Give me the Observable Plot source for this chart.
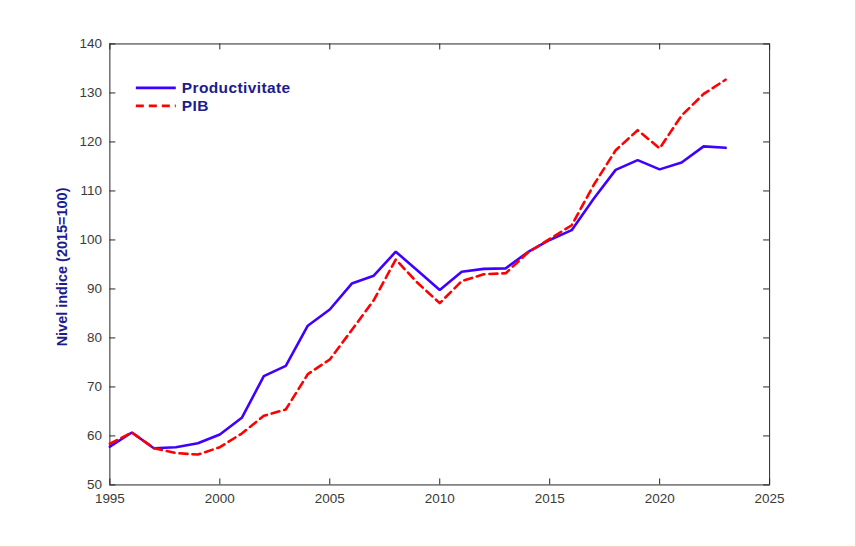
<!DOCTYPE html>
<html>
<head>
<meta charset="utf-8">
<script src="https://cdn.jsdelivr.net/npm/d3@7"></script>
<script src="https://cdn.jsdelivr.net/npm/@observablehq/plot@0.6"></script>
<style>
  html, body { margin: 0; padding: 0; background: #fff; }
  #wrap { position: relative; width: 856px; height: 547px; box-sizing: border-box;
          border-right: 1px solid #f5d2c2; border-bottom: 1px solid #f5d2c2; overflow: hidden; }
</style>
</head>
<body>
<div id="wrap"></div>
<script>
const years = [1995,1996,1997,1998,1999,2000,2001,2002,2003,2004,2005,2006,2007,2008,2009,
               2010,2011,2012,2013,2014,2015,2016,2017,2018,2019,2020,2021,2022,2023];
const productivitate = [57.8,60.7,57.5,57.7,58.5,60.3,63.7,72.2,74.3,82.5,85.8,91.1,92.7,97.6,93.7,
                        89.8,93.5,94.1,94.2,97.5,100.0,102.0,108.4,114.3,116.3,114.4,115.8,119.1,118.8];
const pib = [58.4,60.7,57.5,56.5,56.2,57.7,60.5,64.1,65.4,72.6,75.6,81.6,87.7,96.0,91.2,
             87.1,91.6,93.0,93.2,97.4,100.2,103.0,111.2,118.3,122.4,118.7,125.4,129.8,132.7];
const xTicks = [1995,2000,2005,2010,2015,2020,2025];
const yTicks = [50,60,70,80,90,100,110,120,130,140];
const seriesNames = ["Productivitate", "PIB"];
const colors = ["#4000ff", "#ff0000"];
const yLabel = "Nivel indice (2015=100)";

const rows = [];
years.forEach((y, i) => {
  rows.push({year: y, value: productivitate[i], s: seriesNames[0]});
  rows.push({year: y, value: pib[i], s: seriesNames[1]});
});

const W = 856, H = 547;
const mL = 109.5, mT = 43.5, mR = 86, mB = 62;
const plotH = H - mT - mB, plotW = W - mL - mR;
const tick = 6;
const axisColor = "#262626";
const labelColor = "#3a3a3a";
const navy = "#1c1c8f";
const font = "'Liberation Sans', Arial, sans-serif";

const chart = Plot.plot({
  width: W, height: H,
  marginLeft: mL, marginTop: mT, marginRight: mR, marginBottom: mB,
  style: {fontFamily: font, fontSize: "13.5px", background: "#fff"},
  x: {domain: [1995, 2025], ticks: xTicks, tickFormat: d => String(d)},
  y: {domain: [50, 140], ticks: yTicks},
  marks: [
    Plot.axisX({ticks: xTicks, tickSize: 0, tickPadding: 9, tickFormat: d => String(d), label: null, color: labelColor, fontSize: 13.5}),
    Plot.axisY({ticks: yTicks, tickSize: 0, tickPadding: 8, label: null, color: labelColor, fontSize: 13.5}),
    // inward ticks (bottom, top, left, right)
    Plot.ruleX(xTicks, {stroke: axisColor, insetTop: plotH - tick}),
    Plot.ruleX(xTicks, {stroke: axisColor, insetBottom: plotH - tick}),
    Plot.ruleY(yTicks, {stroke: axisColor, insetRight: plotW - tick}),
    Plot.ruleY(yTicks, {stroke: axisColor, insetLeft: plotW - tick}),
    Plot.frame({stroke: axisColor, strokeWidth: 1}),
    Plot.line(rows.filter(d => d.s === seriesNames[0]), {x: "year", y: "value", stroke: colors[0], strokeWidth: 2.6, strokeLinejoin: "miter"}),
    Plot.line(rows.filter(d => d.s === seriesNames[1]), {x: "year", y: "value", stroke: colors[1], strokeWidth: 2.6, strokeDasharray: "8,5"})
  ]
});

document.getElementById("wrap").appendChild(chart);

// y-axis title and legend
const svg = d3.select(chart);
svg.append("text")
  .attr("transform", `translate(67,${(mT + H - mB) / 2 + 3}) rotate(-90)`)
  .attr("text-anchor", "middle")
  .attr("font-family", font).attr("font-size", 14.5).attr("font-weight", "bold")
  .attr("fill", navy)
  .text(yLabel);

const lg = svg.append("g").attr("text-anchor", "start");
seriesNames.forEach((name, i) => {
  const yy = 88 + i * 18;
  lg.append("line").attr("x1", 136).attr("x2", 176).attr("y1", yy).attr("y2", yy)
    .attr("stroke", colors[i]).attr("stroke-width", 2.6)
    .attr("stroke-dasharray", i === 1 ? "8,5" : null);
  lg.append("text").attr("x", 182).attr("y", yy + 5.5)
    .attr("text-anchor", "start")
    .attr("font-family", font).attr("font-size", 15.5).attr("font-weight", "bold")
    .attr("letter-spacing", 0.4)
    .attr("fill", navy).text(name);
});
</script>
</body>
</html>
